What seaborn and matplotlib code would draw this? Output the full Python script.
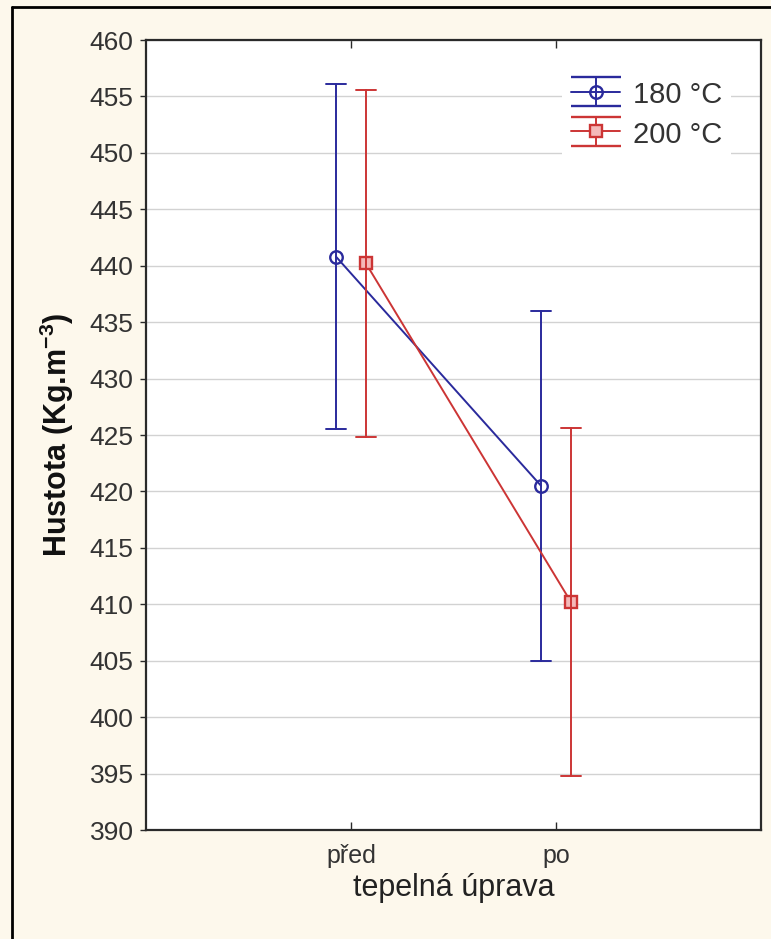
import numpy as np
import pandas as pd
import matplotlib
matplotlib.use("Agg")
import matplotlib.pyplot as plt
from matplotlib.lines import Line2D
import seaborn as sns

# Mean density and half-width of the interval for each treatment temperature
phases = ["před", "po"]
temps = ["180 °C", "200 °C"]
mean_180 = [440.8, 420.5]
half_180 = [15.3, 15.5]
mean_200 = [440.2, 410.2]
half_200 = [15.4, 15.4]

colors = {"180 °C": "#2a2a9c", "200 °C": "#cc3535"}

# Long table: interval bounds per group (their mean is the group mean)
rows = []
for temp, means, halves in [("180 °C", mean_180, half_180), ("200 °C", mean_200, half_200)]:
    for ph, m, h in zip(phases, means, halves):
        rows.append({"faze": ph, "teplota": temp, "hustota": m - h})
        rows.append({"faze": ph, "teplota": temp, "hustota": m + h})
df = pd.DataFrame(rows)

sns.set_theme(style="white")
plt.rcParams["font.family"] = ["Liberation Sans", "DejaVu Sans"]
plt.rcParams["mathtext.fontset"] = "custom"
plt.rcParams["mathtext.rm"] = "Liberation Sans"
plt.rcParams["mathtext.bf"] = "Liberation Sans:bold"

fig = plt.figure(figsize=(7.71, 9.39), dpi=100, facecolor="#fdf8ec")
ax = fig.add_axes([146 / 771, 1 - 830 / 939, (761 - 146) / 771, (830 - 40) / 939])
ax.set_facecolor("white")

sns.pointplot(
    data=df, x="faze", y="hustota", hue="teplota",
    order=phases, hue_order=temps, palette=colors,
    estimator="mean", errorbar=("pi", 100),
    dodge=0.146, capsize=0.1, markers=["o", "s"], linestyles=["-", "-"],
    linewidth=1.4, markersize=9, markerfacecolor="none", markeredgewidth=1.7,
    err_kws={"linewidth": 1.4},
    ax=ax, legend=False,
)
# square markers of the 200 °C series carry a pale fill
for ln in ax.lines:
    if ln.get_marker() == "s":
        ln.set_markerfacecolor("#f4b9b9")

ax.set_xlim(-1, 2)
ax.set_ylim(390, 460)
ax.set_yticks(np.arange(390, 461, 5))
ax.yaxis.grid(True, color="#d2d2d2", linewidth=1)
ax.xaxis.grid(False)
ax.set_axisbelow(True)
for s in ax.spines.values():
    s.set_color("#2a2a2a")
    s.set_linewidth(1.6)

ax.tick_params(axis="y", which="both", left=True, direction="out", length=4,
               width=1, colors="#2a2a2a", labelsize=19, labelcolor="#333333", pad=5)
ax.tick_params(axis="x", bottom=True, top=True, direction="in", length=6, width=1,
               colors="#2a2a2a", labelsize=18, labelcolor="#333333", pad=10)

ax.set_xlabel("tepelná úprava", fontsize=22, color="#222222", labelpad=4)
ax.set_ylabel("Hustota (Kg.m$^{\\mathbf{-3}}$)", fontsize=22, fontweight="bold",
              color="#111111", labelpad=10)

# Legend with error-bar glyphs
handles = []
for t, mk, fc in zip(temps, ["o", "s"], ["none", "#f4b9b9"]):
    h = ax.errorbar([np.nan], [np.nan], yerr=[1], color=colors[t], marker=mk,
                    markersize=9, markerfacecolor=fc, markeredgewidth=1.7,
                    linewidth=1.4, capsize=18, capthick=1.4)
    handles.append(h)
leg = ax.legend(handles, temps, loc="upper right", bbox_to_anchor=(0.952, 0.96),
                fontsize=21, frameon=True, facecolor="white", edgecolor="none",
                framealpha=1, fancybox=False, handlelength=1.7, handleheight=1.0,
                handletextpad=0.45, labelspacing=0.35, borderpad=0.3, borderaxespad=0)
for txt in leg.get_texts():
    txt.set_color("#333333")

# Outer frame lines (top and left)
fig.add_artist(Line2D([12 / 771, 12 / 771], [0, 1 - 7 / 939], transform=fig.transFigure,
                      color="black", linewidth=2))
fig.add_artist(Line2D([12 / 771, 1], [1 - 7 / 939, 1 - 7 / 939], transform=fig.transFigure,
                      color="black", linewidth=2))

fig.savefig("out.png", dpi=100, facecolor=fig.get_facecolor())
